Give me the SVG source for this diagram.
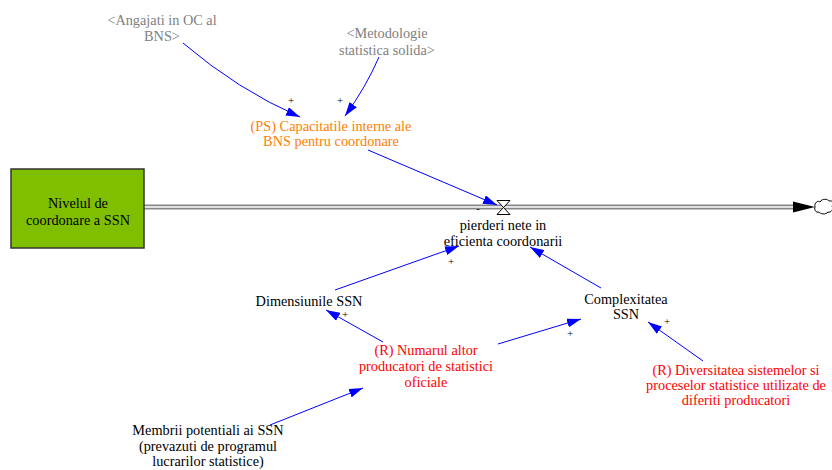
<svg xmlns="http://www.w3.org/2000/svg" width="832" height="470" viewBox="0 0 832 470">
<style>
text{font-family:"Liberation Serif","Times New Roman",serif;font-size:14.3px;text-anchor:middle;fill:#000}
.g{fill:#808080}
.o{fill:#ff8000}
.r{fill:#ff0000}
.l{fill:none;stroke:#0000ff;stroke-width:1}
.p{font-size:11px}
</style>
<defs>
<marker id="ab" viewBox="0 0 14 9" refX="14" refY="4.5" markerWidth="14" markerHeight="9" orient="auto" markerUnits="userSpaceOnUse">
<path d="M0,0 L14,4.5 L0,9 z" fill="#0000ff"/>
</marker>
</defs>
<rect width="832" height="470" fill="#fff"/>
<g id="pipe">
<line x1="144" y1="207" x2="795" y2="207" stroke="#888" stroke-width="5"/>
<line x1="144" y1="207" x2="795" y2="207" stroke="#fff" stroke-width="1.6"/>
<path d="M793,201.5 L815,207 L793,212.5 z" fill="#000"/>
<path id="cloud" d="M815,207 C814,203 818,200 820,202 C822,198 828,199 829,201 C833,200 834,204 832,206 C834,209 831,213 828,212 C826,215 820,214 819,212 C816,213 814,210 815,207 z" fill="#fff" stroke="#000" stroke-width="1"/>
</g>
<g id="valve">
<path d="M497,200.5 L510,200.5 L497,214.5 L510,214.5 z" fill="#fff" stroke="#000" stroke-width="1"/>
</g>
<g id="stock">
<rect x="11" y="169" width="133" height="79" fill="#7fbf00" stroke="#333" stroke-width="1.5"/>
<text x="78" y="208">Nivelul de</text>
<text x="78" y="225">coordonare a SSN</text>
</g>
<g id="connectors">
<path class="l" d="M183,43 Q238,90 300,117" marker-end="url(#ab)"/>
<path class="l" d="M379,57 Q366,87 345,116" marker-end="url(#ab)"/>
<path class="l" d="M368,150 L497,205" marker-end="url(#ab)"/>
<path class="l" d="M335,290 L459,246" marker-end="url(#ab)"/>
<path class="l" d="M601,288 L530,247" marker-end="url(#ab)"/>
<path class="l" d="M383,342 L326,310" marker-end="url(#ab)"/>
<path class="l" d="M498,344 L581,319" marker-end="url(#ab)"/>
<path class="l" d="M703,361 L648,322" marker-end="url(#ab)"/>
<path class="l" d="M270,425 L363,388" marker-end="url(#ab)"/>
</g>
<g id="polarities">
<text class="p" x="291" y="104">+</text>
<text class="p" x="340" y="104">+</text>
<text class="p" x="478" y="212">-</text>
<text class="p" x="451" y="265">+</text>
<text class="p" x="345" y="318">+</text>
<text class="p" x="667" y="325">+</text>
<text class="p" x="570" y="337">+</text>
</g>
<g id="angajati">
<text class="g" x="162" y="25">&lt;Angajati in OC al</text>
<text class="g" x="162" y="41">BNS&gt;</text>
</g>
<g id="metodologie">
<text class="g" x="387" y="38">&lt;Metodologie</text>
<text class="g" x="387" y="55">statistica solida&gt;</text>
</g>
<g id="capacitatile">
<text class="o" x="331" y="131">(PS) Capacitatile interne ale</text>
<text class="o" x="331" y="146">BNS pentru coordonare</text>
</g>
<g id="pierderi">
<text x="503" y="230">pierderi nete in</text>
<text x="503" y="246">eficienta coordonarii</text>
</g>
<g id="dimensiunile">
<text x="309" y="306">Dimensiunile SSN</text>
</g>
<g id="complexitatea">
<text x="626" y="304">Complexitatea</text>
<text x="626" y="319">SSN</text>
</g>
<g id="numarul">
<text class="r" x="426" y="355">(R) Numarul altor</text>
<text class="r" x="426" y="371">producatori de statistici</text>
<text class="r" x="426" y="387">oficiale</text>
</g>
<g id="diversitatea">
<text class="r" x="736" y="375">(R) Diversitatea sistemelor si</text>
<text class="r" x="736" y="390">proceselor statistice utilizate de</text>
<text class="r" x="736" y="405">diferiti producatori</text>
</g>
<g id="membrii">
<text x="208" y="435">Membrii potentiali ai SSN</text>
<text x="208" y="451">(prevazuti de programul</text>
<text x="208" y="466">lucrarilor statistice)</text>
</g>
</svg>
